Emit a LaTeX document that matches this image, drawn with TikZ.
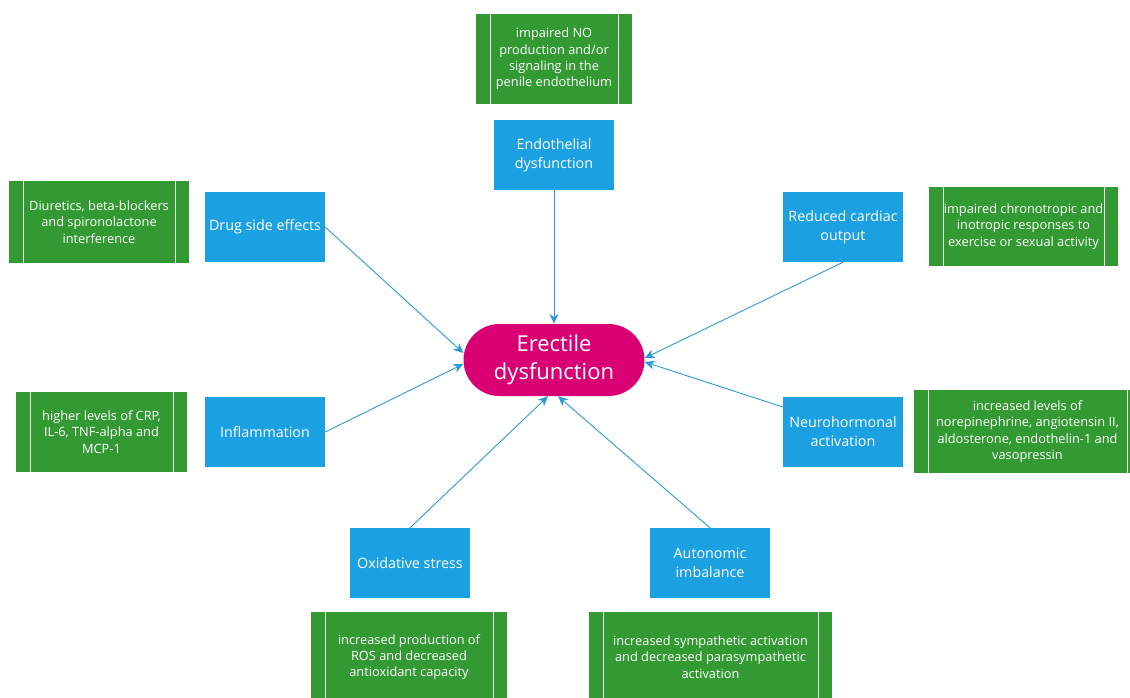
\documentclass[tikz,border=0pt]{standalone}
\usepackage{fontspec}
\setmainfont{Open Sans}
\usetikzlibrary{arrows.meta,calc}
\definecolor{cBlue}{HTML}{1BA1E2}
\definecolor{cGreen}{HTML}{339933}
\definecolor{cPink}{HTML}{D80073}
\definecolor{cArrow}{HTML}{2B9BD3}
\begin{document}
\begin{tikzpicture}[x=1pt,y=-1pt,
  causebox/.style={fill=cBlue, text=white, minimum width=120pt, minimum height=70pt,
    inner sep=0pt, align=center, font=\fontsize{14.3}{19}\selectfont},
  notebox/.style={fill=cGreen, text=white, inner sep=0pt, align=center,
    font=\fontsize{12.8}{16.3}\selectfont,
    path picture={
      \draw[white!90!cGreen, line width=0.8pt]
        ([xshift=14pt]path picture bounding box.north west) --
        ([xshift=14pt]path picture bounding box.south west);
      \draw[white!90!cGreen, line width=0.8pt]
        ([xshift=-14pt]path picture bounding box.north east) --
        ([xshift=-14pt]path picture bounding box.south east);}},
  centerbox/.style={fill=cPink, text=white, minimum width=181pt, minimum height=72pt,
    rounded corners=36pt, inner sep=0pt, align=center,
    font=\fontsize{22}{27.5}\selectfont},
  link/.style={draw=cArrow, line width=0.9pt, -{Stealth[length=10pt,width=9pt]}}]

\useasboundingbox (0,0) rectangle (1130,697);
\clip (0,0) rectangle (1130,697);

% green note boxes
\node[notebox, minimum width=156pt, minimum height=90pt] (n1) at (554,59)
  {impaired NO\\production and/or\\signaling in the\\penile endothelium};
\node[notebox, minimum width=180pt, minimum height=82pt] (n2) at (99,222)
  {Diuretics, beta-blockers\\and spironolactone\\interference};
\node[notebox, minimum width=171pt, minimum height=80pt] (n3) at (101.5,432)
  {higher levels of CRP,\\IL-6, TNF-alpha and\\MCP-1};
\node[notebox, minimum width=189pt, minimum height=79pt] (n4) at (1023.5,226.5)
  {impaired chronotropic and\\inotropic responses to\\exercise or sexual activity};
\node[notebox, minimum width=227pt, minimum height=83pt] (n5) at (1027.5,431.5)
  {increased levels of\\norepinephrine, angiotensin II,\\aldosterone, endothelin-1 and\\vasopressin};
\node[notebox, minimum width=196pt, minimum height=90pt] (n6) at (409,657)
  {increased production of\\ROS and decreased\\antioxidant capacity};
\node[notebox, minimum width=243pt, minimum height=90pt] (n7) at (710.5,657)
  {increased sympathetic activation\\and decreased parasympathetic\\activation};

% blue cause boxes
\node[causebox] (endo)  at (554,155) {Endothelial\\dysfunction};
\node[causebox] (drug)  at (265,227) {Drug side effects};
\node[causebox] (card)  at (843,227) {Reduced cardiac\\output};
\node[causebox] (infl)  at (265,432) {Inflammation};
\node[causebox] (neuro) at (843,432) {Neurohormonal\\activation};
\node[causebox] (oxid)  at (410,563) {Oxidative stress};
\node[causebox] (auto)  at (710,563) {Autonomic\\imbalance};

% center
\node[centerbox] (ed) at (554,360) {Erectile\\dysfunction};

% connectors
\draw[link] (endo.south) -- (endo.south |- ed.north);
\draw[link] (drug.east) -- ($(ed.west)+(0,-7)$);
\draw[link] (infl.east) -- ($(ed.west)+(0,4)$);
\draw[link] (card.south) -- ($(ed.east)+(0,-2)$);
\draw[link] ($(neuro.west)+(0,-25)$) -- ($(ed.east)+(0,2)$);
\draw[link] (oxid.north) -- ($(ed.south)+(-6,0)$);
\draw[link] (auto.north) -- ($(ed.south)+(4,0)$);
\end{tikzpicture}
\end{document}
